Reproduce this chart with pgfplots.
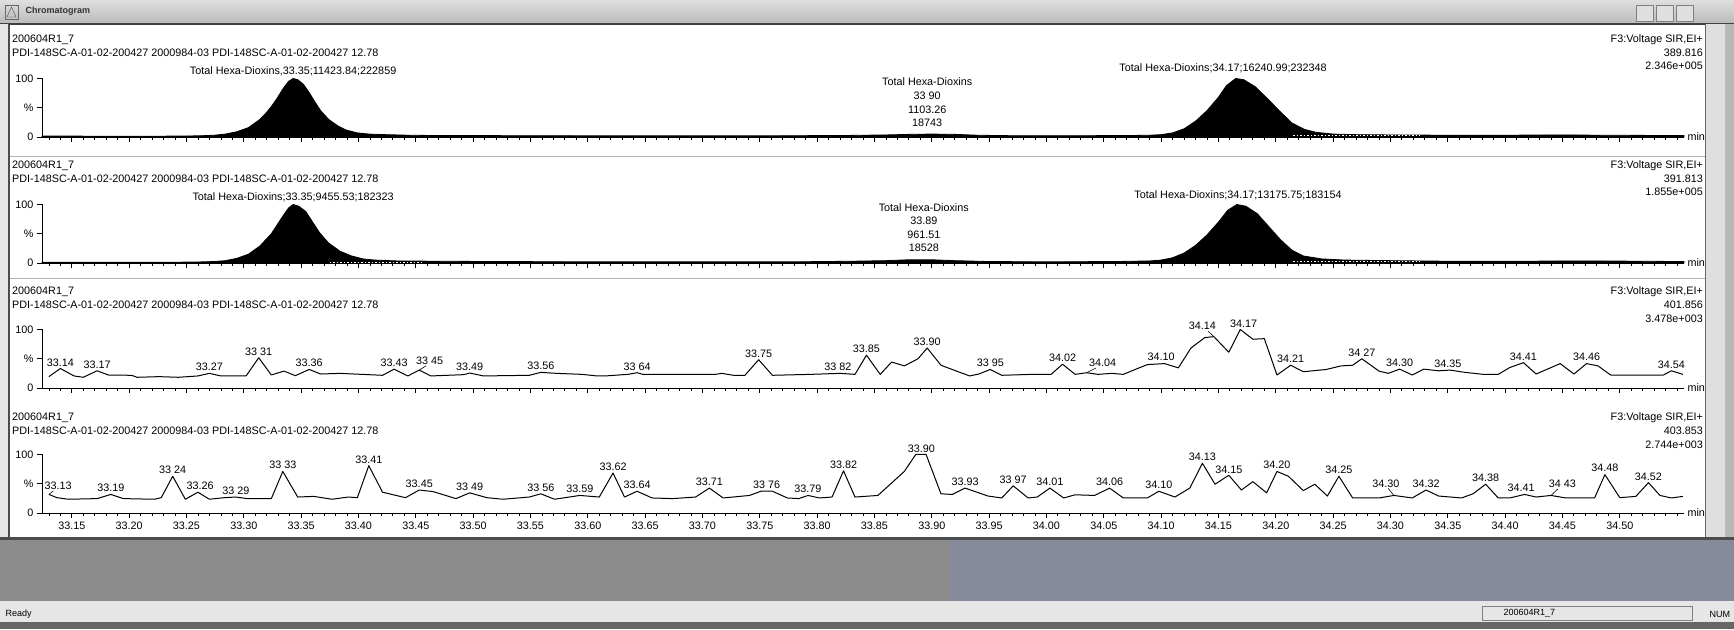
\documentclass[border=0pt]{standalone}
\usepackage{fontspec}
\setmainfont{Liberation Sans}
\usepackage{pgfplots}
\pgfplotsset{compat=1.18}

\newcommand\lab{\fontsize{10.8}{12}\selectfont}
\definecolor{winbg}{HTML}{8C8C8C}
\definecolor{winbgb}{HTML}{878A9A}
\definecolor{statbg}{HTML}{E6E6E6}

\tikzset{pk/.style={font=\lab, anchor=south, inner sep=1pt}}
\pgfplotsset{
  chrom/.style={
    scale only axis, width=1642pt, height=58.5pt,
    xmin=33.124, xmax=34.556, ymin=0, ymax=100,
    axis lines*=left,
    axis line style={line width=0.9pt, -},
    xtick={33.15,33.20,33.25,33.30,33.35,33.40,33.45,33.50,33.55,33.60,33.65,33.70,
           33.75,33.80,33.85,33.90,33.95,34.00,34.05,34.10,34.15,34.20,34.25,34.30,
           34.35,34.40,34.45,34.50},
    minor xtick={33.13,33.14,...,34.55},
    tick align=outside,
    major tick length=5pt, minor tick length=3pt,
    tick style={black, line width=0.7pt},
    ytick={0,50,100}, yticklabels={0,\%,100},
    clip=false,
    tick label style={font=\lab},
    /pgf/number format/assume math mode=true,
    anchor=south west,
  },
  trace/.style={black, line width=1pt, line join=round, no markers},
  intg/.style={white, line width=0.9pt, dash pattern=on 1.5pt off 2pt, no markers},
}
% peak labels: time / height / text
\newcommand\peaklabels[1]{%
  \foreach \tx/\py/\sx in {#1}{%
    \edef\tmp{\noexpand\node[pk] at (axis cs:\tx,\py) {\sx};}\tmp
  }%
}

\begin{document}
\begin{tikzpicture}
\begin{scope}[x=1pt,y=1pt]
\useasboundingbox (0,0) rectangle (1734,629);
% window
\fill[white] (0,0) rectangle (1734,629);
\shade[top color=gray!25, bottom color=gray!55] (0,605) rectangle (1734,629);
\draw[black!75, line width=1.5pt] (0,605) -- (1734,605);
\draw[black!60] (5,610) rectangle (18,624);
\draw[black!70] (7,612) -- (11.5,622) -- (16,612) -- cycle;
\node[font=\fontsize{9}{10}\selectfont\bfseries, anchor=west, text=black!80] at (22,618) {Chromatogram};
\foreach \bx in {1636,1656,1676}{\fill[gray!25] (\bx,608) rectangle (\bx+17,624); \draw[black!50] (\bx,608) rectangle (\bx+17,624);}
\fill[gray!20] (0,92) rectangle (9,605);
\draw[black!70, line width=1.2pt] (9,92) -- (9,605);
\fill[gray!25] (1705,92) rectangle (1725,605);
\fill[gray!55] (1725,92) rectangle (1734,605);
\draw[black!60] (1705,92) -- (1705,605);
\draw[gray!60, line width=1pt] (10,472) -- (1705,472);
\draw[gray!60, line width=1pt] (10,350) -- (1705,350);
% bottom area
\fill[black!70] (0,89) rectangle (1734,92);
\fill[winbg] (0,28) rectangle (950,89);
\fill[winbgb] (950,28) rectangle (1734,89);
\fill[statbg] (0,7) rectangle (1734,28);
\fill[black!60] (0,0) rectangle (1734,7);
\node[font=\fontsize{9}{10}\selectfont, anchor=west] at (2,15) {Ready};
\draw[black!50] (1482,9) rectangle (1692,23);
\node[font=\fontsize{9}{10}\selectfont, anchor=west] at (1500,16) {200604R1\_7};
\node[font=\fontsize{9}{10}\selectfont, anchor=west] at (1706,15) {NUM};

% headers
\foreach \yy/\ya/\yb/\yc/\mz/\ic in {589/589/576/563/389.816/2.346e+005, 463/463/450/437/391.813/1.855e+005,
                              337/337/324/310.5/401.856/3.478e+003, 211/211/198/184.5/403.853/2.744e+003}{
  \node[font=\lab, anchor=west, inner sep=0pt] at (12,\yy) {200604R1\_7};
  \node[font=\lab, anchor=west, inner sep=0pt] at (12,\yy-13) {PDI-148SC-A-01-02-200427 2000984-03 PDI-148SC-A-01-02-200427 12.78};
  \node[font=\lab, anchor=east, inner sep=0pt] at (1703,\ya) {F3:Voltage SIR,EI+};
  \node[font=\lab, anchor=east, inner sep=0pt] at (1703,\yb) {\mz};
  \node[font=\lab, anchor=east, inner sep=0pt] at (1703,\yc) {\ic};
}
\end{scope}

% ---- panel 1: m/z 389.816
\begin{axis}[chrom, at={(42pt,492pt)}, xticklabels={}]
\addplot[fill=black, draw=black, line width=0.8pt] table {
33.124 1.5
33.15 1.5
33.20 1.2
33.24 1.5
33.254 1.8
33.264 2.2
33.274 3
33.284 5
33.294 9
33.304 16
33.314 30
33.319 40
33.324 52
33.329 66
33.334 82
33.339 95
33.343 100
33.347 98
33.352 90
33.357 76
33.362 60
33.367 45
33.374 30
33.382 19
33.389 12
33.399 7
33.409 5
33.424 4
33.444 3
33.47 2.5
33.55 2.2
33.65 2
33.75 2
33.82 2.5
33.86 3.5
33.88 4.5
33.90 5
33.92 4.5
33.94 3
33.97 2.2
34.03 2.2
34.07 2.5
34.09 3
34.10 4
34.11 7
34.12 14
34.13 27
34.14 45
34.15 68
34.157 88
34.165 100
34.172 98
34.182 86
34.193 65
34.204 43
34.214 24
34.225 13
34.235 8
34.25 5
34.27 4
34.30 3.5
34.35 3
34.40 3
34.44 3.5
34.46 3.5
34.48 3
34.556 2.5
} \closedcycle;
\addplot[intg] coordinates {(34.215,2) (34.325,2)};
\node[font=\lab, anchor=center] at (axis cs:33.343,113) {Total Hexa-Dioxins,33.35;11423.84;222859};
\node[font=\lab, anchor=center] at (axis cs:34.154,117) {Total Hexa-Dioxins;34.17;16240.99;232348};
\node[font=\lab] at (axis cs:33.896,94.4) {Total Hexa-Dioxins};
\node[font=\lab] at (axis cs:33.896,69.7) {33 90};
\node[font=\lab] at (axis cs:33.896,47) {1103.26};
\node[font=\lab] at (axis cs:33.896,24.4) {18743};
\node[font=\lab, anchor=west] at (rel axis cs:1,0) {min};
\end{axis}

% ---- panel 2: m/z 391.813
\begin{axis}[chrom, at={(42pt,366pt)}, xticklabels={}]
\addplot[fill=black, draw=black, line width=0.8pt] table {
33.124 1.2
33.20 1.2
33.256 1.5
33.274 2.5
33.284 4
33.294 8
33.304 15
33.314 29
33.324 50
33.334 80
33.339 94
33.343 100
33.348 97
33.354 88
33.360 70
33.366 52
33.374 34
33.384 20
33.394 12
33.404 7
33.414 5
33.434 3.5
33.47 3
33.52 2.5
33.60 2
33.70 2
33.78 2
33.83 3
33.86 4
33.88 5.5
33.90 5.5
33.92 4
33.95 2.5
34.00 2
34.06 2.5
34.09 3.5
34.10 5
34.11 9
34.12 17
34.13 30
34.14 48
34.15 70
34.158 90
34.166 100
34.174 97
34.184 84
34.194 62
34.204 40
34.214 22
34.224 12
34.24 7
34.26 5
34.30 4
34.35 3
34.42 3
34.45 3.5
34.48 3.5
34.556 2.5
} \closedcycle;
\addplot[intg] coordinates {(33.375,1.6) (33.457,1.6)};
\addplot[intg] coordinates {(34.215,1.8) (34.325,1.8)};
\node[font=\lab, anchor=center] at (axis cs:33.343,113) {Total Hexa-Dioxins;33.35;9455.53;182323};
\node[font=\lab, anchor=center] at (axis cs:34.167,115) {Total Hexa-Dioxins;34.17;13175.75;183154};
\node[font=\lab] at (axis cs:33.893,94.2) {Total Hexa-Dioxins};
\node[font=\lab] at (axis cs:33.893,71.5) {33.89};
\node[font=\lab] at (axis cs:33.893,48.7) {961.51};
\node[font=\lab] at (axis cs:33.893,26.2) {18528};
\node[font=\lab, anchor=west] at (rel axis cs:1,0) {min};
\end{axis}

% ---- panel 3: m/z 401.856
\begin{axis}[chrom, at={(42pt,241pt)}, xticklabels={}]
\addplot[trace] table {
33.130 19.4
33.140 33.3
33.152 20.6
33.160 18.3
33.172 29.4
33.182 22.2
33.202 21.7
33.207 18.3
33.226 19.4
33.243 18.3
33.260 20.6
33.270 25
33.280 20.6
33.302 20.6
33.313 51.7
33.324 22.2
33.335 28.9
33.345 21.1
33.357 31.7
33.367 23.9
33.384 25
33.421 21.7
33.431 32.2
33.443 20.6
33.453 30.6
33.463 20.6
33.492 22.8
33.497 25.6
33.509 20.6
33.549 21.7
33.559 26.7
33.573 25
33.595 23.3
33.608 20.6
33.615 20.6
33.635 23.3
33.643 26.1
33.648 23.3
33.711 23.3
33.717 25
33.727 21.7
33.737 21.7
33.749 48.3
33.761 21.7
33.794 23.3
33.820 25
33.833 23.3
33.843 56.1
33.855 23.3
33.865 44.4
33.876 37.8
33.888 50
33.896 68.3
33.908 38.9
33.923 27.8
33.933 20.6
33.941 23.9
33.951 31.7
33.961 21.7
33.987 23.3
34.004 23.3
34.014 40.6
34.025 23.3
34.035 26.1
34.045 23.3
34.057 25
34.067 23.3
34.078 32.2
34.088 40
34.103 41.7
34.115 34.4
34.126 68.3
34.138 86.1
34.146 87.8
34.159 61.1
34.169 100
34.180 83.3
34.190 84.4
34.201 22.2
34.213 38.9
34.224 27.8
34.244 31.7
34.257 37.8
34.267 38.9
34.275 50
34.290 28.9
34.298 25
34.308 32.2
34.319 22.2
34.329 32.2
34.342 29.4
34.352 30.6
34.365 26.7
34.381 23.3
34.394 23.3
34.404 35
34.416 43.3
34.427 23.9
34.448 41.7
34.460 23.9
34.471 41.7
34.481 37.8
34.492 22.2
34.538 22.2
34.545 29.4
34.555 23.3
};
\peaklabels{33.140/35/33.14, 33.172/31/33.17, 33.270/27/33.27, 33.313/54/33 31,
  33.357/34/33.36, 33.431/34/33.43, 33.462/38/33 45, 33.497/27/33.49, 33.559/29/33.56,
  33.643/28/33 64, 33.749/50/33.75, 33.818/27/33 82, 33.843/58/33.85, 33.896/70/33.90,
  33.951/34/33 95, 34.014/43/34.02, 34.049/34/34.04, 34.100/44/34.10, 34.136/97/34.14,
  34.172/102/34.17, 34.213/41/34.21, 34.275/52/34 27, 34.308/34/34.30, 34.350/32/34.35,
  34.416/45/34.41, 34.471/44/34.46, 34.545/31/34.54}
\draw[line width=0.6pt] (axis cs:33.453,30.6) -- (axis cs:33.459,38);
\draw[line width=0.6pt] (axis cs:34.035,26.1) -- (axis cs:34.043,34);
\draw[line width=0.6pt] (axis cs:34.146,87.8) -- (axis cs:34.141,97);
\node[font=\lab, anchor=west] at (rel axis cs:1,0) {min};
\end{axis}

% ---- panel 4: m/z 403.853
\begin{axis}[chrom, at={(42pt,116pt)},
  xticklabel style={/pgf/number format/.cd, fixed, fixed zerofill, precision=2}]
\addplot[trace] table {
33.130 31.7
33.137 26.2
33.147 23.5
33.172 24.6
33.184 31.7
33.195 24.6
33.222 23.5
33.228 26.2
33.238 62.8
33.249 23.5
33.260 35.5
33.270 23.5
33.283 26.2
33.293 27.3
33.303 24.6
33.324 24.6
33.334 71
33.347 27.3
33.361 28.4
33.377 23.5
33.391 27.3
33.399 26.2
33.409 80.9
33.421 35.5
33.441 26.2
33.453 39.3
33.465 36.6
33.485 24.6
33.497 34.4
33.512 26.2
33.526 23.5
33.549 27.3
33.559 32.8
33.571 23.5
33.593 30
33.610 27.3
33.622 68.3
33.632 27.3
33.643 37.2
33.656 25.7
33.674 24.6
33.694 27.3
33.706 42.6
33.718 25.7
33.741 30
33.751 37.2
33.761 37.2
33.774 25.7
33.784 24.6
33.792 30
33.802 25.7
33.813 27.3
33.823 72.1
33.833 27.3
33.853 30
33.876 71
33.886 100
33.895 100
33.908 32.8
33.918 31.7
33.929 42.6
33.949 29
33.961 25.7
33.971 46.4
33.984 25.7
33.992 27.3
34.003 42.6
34.015 25.7
34.025 31.1
34.042 30
34.055 42.6
34.067 25.7
34.088 25.7
34.098 37.2
34.112 27.3
34.125 42.6
34.136 85
34.147 49.2
34.159 64.5
34.170 39.3
34.180 53.6
34.192 34.4
34.201 71
34.211 62.8
34.224 38.3
34.234 49.2
34.245 29
34.255 62.8
34.267 25.7
34.290 25.7
34.303 30
34.319 25.7
34.331 39.3
34.342 29
34.362 25.7
34.372 32.8
34.383 49.2
34.394 25.7
34.404 25.7
34.417 31.7
34.427 27.3
34.440 30
34.453 25.7
34.478 25.7
34.487 65.6
34.500 26.2
34.514 28.4
34.525 51.9
34.535 30
34.545 25.7
34.555 28.4
};
\peaklabels{33.138/38/33.13, 33.184/34/33.19, 33.238/65/33 24, 33.262/38/33.26,
  33.293/30/33 29, 33.334/73/33 33, 33.409/83/33.41, 33.453/41/33.45, 33.497/36/33 49,
  33.559/35/33 56, 33.593/32/33.59, 33.622/70/33.62, 33.643/39/33.64, 33.706/45/33.71,
  33.756/39/33 76, 33.792/32/33.79, 33.823/74/33.82, 33.891/102/33.90, 33.929/45/33.93,
  33.971/48/33 97, 34.003/45/34.01, 34.055/45/34.06, 34.098/39/34.10, 34.136/87/34.13,
  34.159/66/34.15, 34.201/73/34.20, 34.255/65/34.25, 34.296/42/34.30, 34.331/42/34.32,
  34.383/52/34.38, 34.414/34/34.41, 34.450/41/34 43, 34.487/68/34.48, 34.525/54/34.52}
\draw[line width=0.6pt] (axis cs:33.130,31.7) -- (axis cs:33.134,38);
\draw[line width=0.6pt] (axis cs:34.303,30) -- (axis cs:34.298,42);
\draw[line width=0.6pt] (axis cs:34.440,30) -- (axis cs:34.446,41);
\node[font=\lab, anchor=west] at (rel axis cs:1,0) {min};
\end{axis}
\end{tikzpicture}
\end{document}
